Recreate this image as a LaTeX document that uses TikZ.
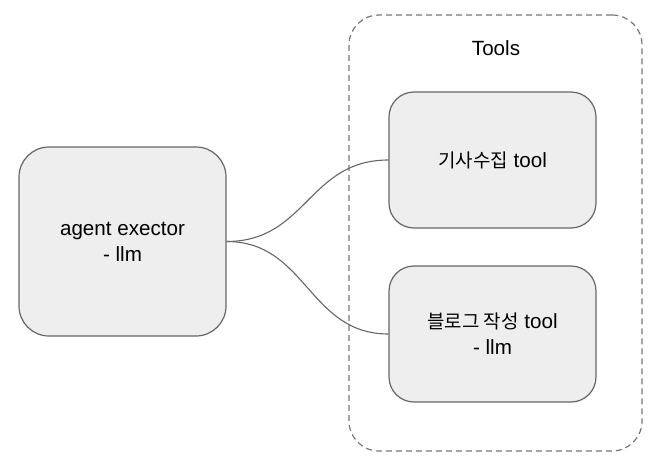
\documentclass[tikz,border=0pt]{standalone}
\usepackage{fontspec}
\setmainfont{Liberation Sans}
\newfontfamily\kr[Scale=0.92]{Noto Sans CJK KR}
\definecolor{boxfill}{HTML}{EEEEEE}
\definecolor{boxline}{HTML}{666666}
\definecolor{dashline}{HTML}{777777}
\begin{document}
\begin{tikzpicture}[x=1pt,y=-1pt,
  txt/.style={font=\fontsize{20.6}{26}\selectfont, align=center},
  box/.style={txt, draw=boxline, fill=boxfill, line width=1.2pt, inner sep=0pt},
  link/.style={draw=boxline, line width=1.1pt},
  group/.style={draw=dashline, dash pattern=on 6pt off 4pt, rounded corners=30pt, line width=1.2pt, inner sep=0pt}
]
\useasboundingbox (0,0) rectangle (664,471);
\node[group, minimum width=293pt, minimum height=436pt] (tools) at (495.5,233) {};
\node[txt] (toolslabel) at (496,48) {Tools};
\node[box, rounded corners=30pt, minimum width=207pt, minimum height=189pt] (agent) at (122.5,241.5) {agent exector\\- llm};
\node[box, rounded corners=25pt, minimum width=207pt, minimum height=136pt] (t1) at (492.5,160) {{\kr 기사수집} tool};
\node[box, rounded corners=25pt, minimum width=207pt, minimum height=136pt] (t2) at (492.5,334) {{\kr 블로그 작성} tool\\- llm};
\draw[link] (agent.east) .. controls +(80,0) and +(-80,0) .. (t1.west);
\draw[link] (agent.east) .. controls +(80,0) and +(-80,0) .. (t2.west);
\end{tikzpicture}
\end{document}
